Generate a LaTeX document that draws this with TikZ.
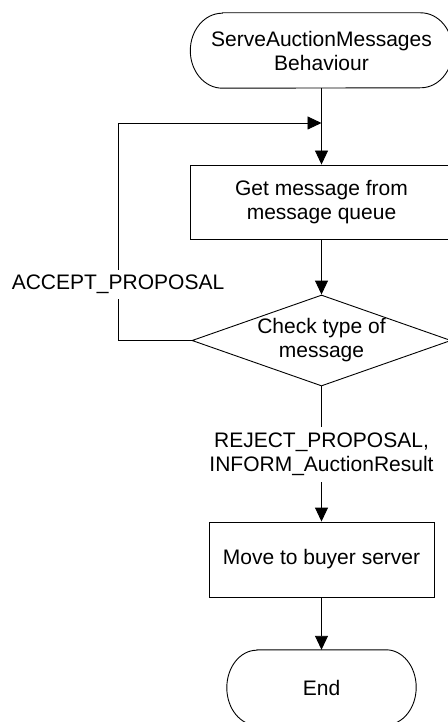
\documentclass[tikz,border=0pt]{standalone}
\usepackage{fontspec}
\setmainfont{Liberation Sans}
\usetikzlibrary{arrows.meta,shapes.geometric}
\tikzset{
  base/.style={font=\fontsize{21pt}{24pt}\selectfont, align=center, inner sep=0pt},
  boxnode/.style={base, draw, line width=0.9pt, minimum width=263pt, minimum height=74pt},
  termnode/.style={base, minimum height=75pt},
  lbl/.style={base, fill=white},
  conn/.style={line width=0.9pt},
  arr/.style={conn, -{Triangle[length=14pt,width=13pt]}},
}
\newcommand{\termpath}[2]{%
  \draw[conn] ([xshift=#2]#1.north west) -- ([xshift=-#2]#1.north east)
    arc[start angle=90,end angle=-90,x radius=#2,y radius=37.5pt]
    -- ([xshift=#2]#1.south west)
    arc[start angle=270,end angle=90,x radius=#2,y radius=37.5pt] -- cycle;}
\begin{document}
\begin{tikzpicture}[x=1pt,y=-1pt]
\useasboundingbox (0,0) rectangle (447,722);
% start terminal
\node[termnode, minimum width=262pt] (start) at (321.5,50.5) {ServeAuctionMessages\\Behaviour};
\termpath{start}{32pt}
% get message box
\node[boxnode] (box1) at (321.5,202) {Get message from\\message queue};
% decision
\node[diamond, draw, line width=0.9pt, minimum width=259pt, minimum height=91pt, inner sep=0pt, aspect=2.846] (dec) at (321.5,340.5) {};
\node[base] (dectext) at (dec.center) {Check type of\\message};
% move box
\node[boxnode, minimum width=225pt, minimum height=75pt] (box2) at (321.5,559.5) {Move to buyer server};
% end terminal
\node[termnode, minimum width=189pt] (end) at (321.5,687.5) {End};
\termpath{end}{30pt}
% labels
\node[lbl, minimum height=29pt] (acc) at (118,284.5) {ACCEPT\_PROPOSAL};
\node[lbl, minimum height=55pt] (rej) at (321.5,454.5) {REJECT\_PROPOSAL,\\INFORM\_AuctionResult};
% coordinates
\coordinate (m) at (321.5,123);
\coordinate (lt) at (118,123);
\coordinate (lc) at (118,340.5);
% connectors
\draw[arr] (start.south) -- (box1.north);
\draw[arr] (box1.south) -- (dec.north);
\draw[conn] (dec.west) -- (lc) -- (acc.south);
\draw[arr] (acc.north) -- (lt) -- (m);
\draw[conn] (dec.south) -- (rej.north);
\draw[arr] (rej.south) -- (box2.north);
\draw[arr] (box2.south) -- (end.north);
\end{tikzpicture}
\end{document}
